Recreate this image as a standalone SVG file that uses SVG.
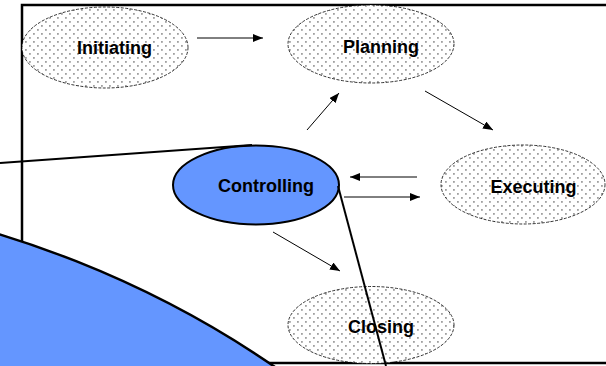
<svg xmlns="http://www.w3.org/2000/svg" width="606" height="366" viewBox="0 0 606 366">
  <defs>
    <pattern id="dots" width="8" height="8" patternUnits="userSpaceOnUse">
      <rect width="8" height="8" fill="#ffffff"/>
      <rect x="1" y="1" width="1.8" height="1.8" fill="#a0a0a0"/>
      <rect x="5" y="5" width="1.8" height="1.8" fill="#a0a0a0"/>
    </pattern>
    <marker id="arrow" viewBox="0 0 10 8" refX="10" refY="4" markerWidth="10" markerHeight="8" markerUnits="userSpaceOnUse" orient="auto">
      <path d="M0,0 L10,4 L0,8 Z" fill="#000"/>
    </marker>
    <style>
      .phase { fill: url(#dots); stroke: #000; stroke-width: 0.8; stroke-dasharray: 3 1.5; }
      .label { font-family: "Liberation Sans", Arial, sans-serif; font-weight: bold; font-size: 18px; fill: #000; text-anchor: middle; }
      .conn { stroke: #000; stroke-width: 1; fill: none; marker-end: url(#arrow); }
      .frame { fill: #fff; stroke: #000; stroke-width: 2.5; }
      .lens { stroke: #000; stroke-width: 2; fill: none; }
    </style>
  </defs>

  <rect width="606" height="366" fill="#fff"/>

  <!-- outer frame -->
  <rect class="frame" x="22" y="5" width="620" height="358"/>

  <!-- process phases -->
  <g id="initiating">
    <ellipse class="phase" cx="105" cy="47.5" rx="83" ry="40.5"/>
    <text class="label" x="114.5" y="54">Initiating</text>
  </g>
  <g id="planning">
    <ellipse class="phase" cx="371" cy="44" rx="83" ry="39"/>
    <text class="label" x="381" y="53">Planning</text>
  </g>
  <g id="executing">
    <ellipse class="phase" cx="523" cy="184.5" rx="82" ry="39.5"/>
    <text class="label" x="533.5" y="193">Executing</text>
  </g>
  <g id="closing">
    <ellipse class="phase" cx="371" cy="325" rx="83" ry="38.5"/>
    <text class="label" x="381" y="333">Closing</text>
  </g>
  <g id="controlling">
    <ellipse cx="256" cy="185" rx="83" ry="39.5" fill="#6496ff" stroke="#000" stroke-width="2"/>
    <text class="label" x="266" y="192">Controlling</text>
  </g>

  <!-- flow arrows -->
  <g id="connectors">
    <line class="conn" x1="197" y1="38" x2="263" y2="38"/>
    <line class="conn" x1="307" y1="130" x2="339" y2="93"/>
    <line class="conn" x1="425" y1="91" x2="493" y2="130"/>
    <line class="conn" x1="417" y1="177" x2="350" y2="177"/>
    <line class="conn" x1="344" y1="197" x2="420" y2="197"/>
    <line class="conn" x1="273" y1="232" x2="340" y2="271"/>
  </g>

  <!-- magnifier callout -->
  <g id="callout">
    <line class="lens" x1="0" y1="163" x2="252" y2="145"/>
    <line class="lens" x1="338" y1="186" x2="386" y2="366"/>
    <circle cx="-292" cy="1191" r="1000" fill="#6496ff" stroke="#000" stroke-width="2.5"/>
  </g>
</svg>
